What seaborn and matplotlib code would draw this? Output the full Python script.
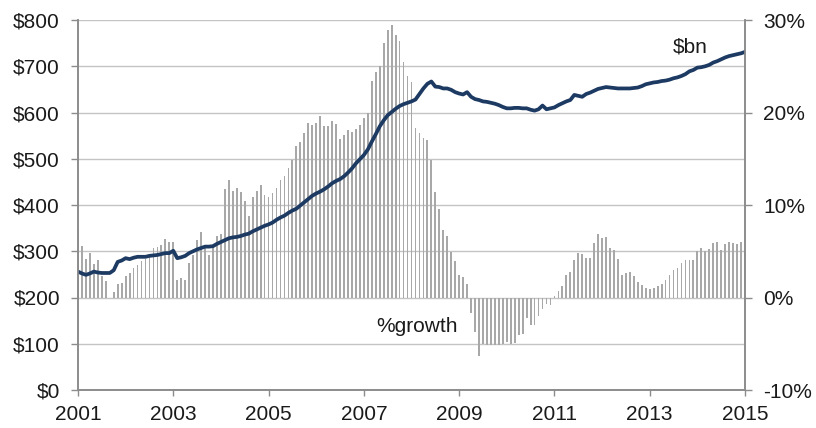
import numpy as np
import pandas as pd
import matplotlib
matplotlib.use("Agg")
import matplotlib.pyplot as plt
from matplotlib.ticker import MultipleLocator, FixedLocator
import seaborn as sns

# Monthly series, Jan 2001 .. Jan 2015
level_bn = [
    256, 252, 249, 252, 256, 254, 253, 253, 253, 259, 277, 280,
    285, 283, 286, 288, 288, 288, 290, 291, 292, 294, 296, 296,
    301, 285, 287, 290, 296, 300, 304, 307, 310, 310, 311, 316,
    320, 324, 328, 330, 331, 333, 336, 338, 343, 347, 351, 355,
    358, 362, 368, 373, 377, 383, 388, 392, 399, 406, 413, 420,
    425, 429, 434, 440, 447, 452, 456, 462, 470, 479, 490, 499,
    508, 520, 537, 553, 570, 583, 594, 601, 608, 614, 618, 621,
    624, 628, 640, 652, 662, 667, 656, 655, 652, 652, 649, 644,
    641, 639, 644, 634, 629, 627, 624, 623, 621, 619, 616, 612,
    609, 609, 610, 610, 609, 609, 606, 604, 607, 615, 607, 609,
    611, 616, 620, 624, 627, 638, 636, 634, 640, 643, 647, 651,
    653, 655, 654, 653, 652, 652, 652, 652, 653, 654, 657, 661,
    663, 665, 666, 668, 669, 671, 674, 676, 679, 683, 689, 692,
    697, 698, 700, 703, 708, 711, 715, 719, 722, 724, 726, 728,
    731,
]

growth_pct = [
    7.3, 5.6, 4.2, 4.8, 3.6, 4.05, 2.3, 1.8, -0.05, 0.6, 1.5, 1.6,
    2.3, 2.6, 3.2, 3.5, 4.0, 4.2, 4.6, 5.3, 5.5, 5.7, 6.3, 6.0,
    6.0, 1.9, 2.1, 1.9, 3.7, 4.6, 6.2, 7.1, 5.5, 4.6, 5.7, 6.6,
    6.9, 11.7, 12.7, 11.5, 11.8, 11.4, 10.4, 8.8, 10.9, 11.5, 12.2, 11.1,
    10.9, 11.3, 11.8, 12.7, 13.1, 14.0, 14.9, 16.4, 16.85, 17.8, 18.9, 18.65,
    18.9, 19.6, 18.5, 18.5, 19.1, 18.8, 17.1, 17.6, 18.1, 17.9, 18.2, 18.65,
    19.4, 19.9, 23.4, 24.4, 25.0, 27.5, 28.9, 29.5, 28.4, 27.7, 25.5, 23.9,
    23.3, 18.3, 17.75, 17.2, 17.0, 14.9, 11.4, 9.6, 7.3, 6.6, 4.95, 3.9,
    2.4, 2.2, 1.5, -1.7, -3.7, -6.3, -5.0, -5.1, -5.1, -5.1, -5.1, -5.0,
    -4.8, -5.0, -4.9, -4.05, -3.9, -2.25, -3.0, -3.0, -2.0, -1.2, -0.7, -0.8,
    0.16, 0.7, 1.2, 2.4, 2.8, 4.05, 4.8, 4.7, 4.3, 4.3, 5.85, 6.9,
    6.4, 6.5, 5.4, 5.1, 4.2, 2.4, 2.7, 2.8, 2.3, 1.7, 1.4, 1.06,
    0.9, 1.06, 1.2, 1.5, 1.9, 2.4, 3.0, 3.15, 3.7, 4.05, 4.05, 4.05,
    5.0, 5.3, 5.0, 5.2, 5.9, 6.0, 5.1, 5.75, 6.0, 5.9, 5.8, 6.0,
    5.0,
]

year_labels = ["2001", "2003", "2005", "2007", "2009", "2011", "2013", "2015"]
left_ticks = [0, 100, 200, 300, 400, 500, 600, 700, 800]
left_labels = ["$0", "$100", "$200", "$300", "$400", "$500", "$600", "$700", "$800"]
right_ticks = [-10, 0, 10, 20, 30]
right_labels = ["-10%", "0%", "10%", "20%", "30%"]

month_idx = np.arange(len(level_bn))
df = pd.DataFrame({"month": month_idx, "level": level_bn, "growth": growth_pct})

sns.set_style("white")
plt.rcParams["font.family"] = ["Liberation Sans", "DejaVu Sans"]

TEXT = "#1a1a1a"
SPINE = "#8c8c8c"
GRID = "#c4c4c4"
BAR = "#a8a8a8"
LINE = "#1d3a63"
FS = 15

fig = plt.figure(figsize=(8.16, 4.28), dpi=100)
ax1 = fig.add_axes([78/816, 1 - 390/428, (745 - 78)/816, (390 - 20)/428])
ax2 = ax1.twinx()

# bars on right (percent) axis
sns.barplot(data=df, x="month", y="growth", native_scale=True, ax=ax2,
            color=BAR, width=0.45, saturation=1, edgecolor="none", linewidth=0)
ax2.set_ylim(-10, 30)
ax2.yaxis.set_major_locator(FixedLocator(right_ticks))
ax2.set_yticklabels(right_labels)
ax2.yaxis.set_minor_locator(MultipleLocator(5))
ax2.grid(which="both", axis="y", color=GRID, linewidth=1.0)
ax2.grid(which="both", axis="x", visible=False)
ax2.set_axisbelow(True)
ax2.set_ylabel("")
ax2.set_xlabel("")
ax2.tick_params(axis="y", which="major", length=5, color=SPINE, labelsize=FS,
                labelcolor=TEXT, pad=8, direction="out", right=True, width=1)
ax2.tick_params(axis="y", which="minor", length=0)

# line on left ($bn) axis, drawn above bars
ax1.set_zorder(ax2.get_zorder() + 1)
ax1.patch.set_visible(False)
sns.lineplot(data=df, x="month", y="level", ax=ax1, color=LINE, linewidth=2.7)
ax1.set_ylim(0, 800)
ax1.set_yticks(left_ticks)
ax1.set_yticklabels(left_labels)
ax1.set_xlim(0, 168)
ax1.set_xticks(np.arange(0, 169, 24))
ax1.set_xticklabels(year_labels)
ax1.set_xlabel("")
ax1.set_ylabel("")
ax1.grid(False)
ax1.tick_params(axis="y", length=5, color=SPINE, labelsize=FS, labelcolor=TEXT,
                pad=8, direction="out", left=True, width=1)
ax1.tick_params(axis="x", length=4, color=SPINE, labelsize=FS, labelcolor=TEXT,
                pad=7, direction="out", bottom=True, width=1)
ax2.set_xlim(0, 168)

for ax in (ax1, ax2):
    ax.spines["top"].set_visible(False)
    for s in ("left", "right", "bottom"):
        ax.spines[s].set_color(SPINE)
        ax.spines[s].set_linewidth(1.2)

fig.text(690/816, 1 - 47/428, "$bn", fontsize=FS, color=TEXT,
         ha="center", va="center")
fig.text(376/816, 1 - 327/428, "%growth", fontsize=FS, color=TEXT,
         ha="left", va="center")

fig.savefig("out.png", dpi=100)
